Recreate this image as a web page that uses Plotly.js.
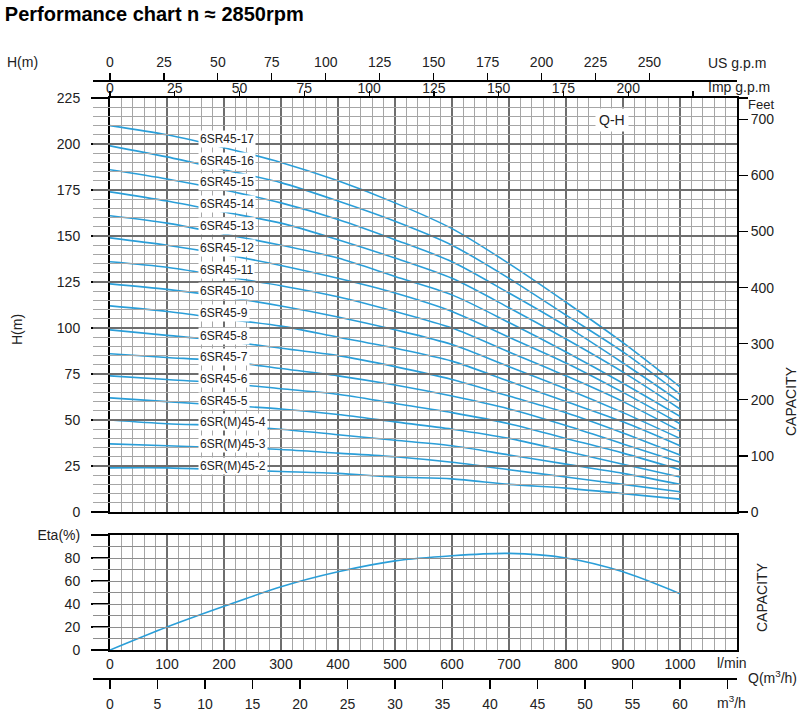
<!DOCTYPE html>
<html>
<head>
<meta charset="utf-8">
<script src="https://cdn.plot.ly/plotly-3.0.1.min.js"></script>
<style>
  html, body { margin: 0; padding: 0; background: #fff; }
  #chart { width: 800px; height: 725px; }
</style>
</head>
<body>
<div id="chart"></div>
<script>
// flow points, l/min
const flow = [0, 100, 200, 300, 400, 500, 600, 700, 800, 900, 1000];

// Q-H curves, head in m
const models = ['6SR45-17', '6SR45-16', '6SR45-15', '6SR45-14', '6SR45-13', '6SR45-12',
	'6SR45-11', '6SR45-10', '6SR45-9', '6SR45-8', '6SR45-7', '6SR45-6', '6SR45-5',
	'6SR(M)45-4', '6SR(M)45-3', '6SR(M)45-2'];
const head17 = [210, 205, 198, 190, 180, 168, 154, 135, 114, 92, 68];
const head16 = [199, 193, 186, 179, 169, 158, 145, 127, 107, 87, 64];
const head15 = [186, 181, 175, 168, 159, 148, 136, 119, 101, 81, 60];
const head14 = [174, 169, 163, 157, 148, 138, 127, 111, 94, 76, 56];
const head13 = [161, 157, 151, 145, 138, 128, 118, 103, 87, 70, 52];
const head12 = [149, 145, 140, 134, 127, 119, 109, 95, 81, 65, 48];
const head11 = [136, 133, 128, 123, 117, 109, 100, 87, 74, 60, 44];
const head10 = [124, 121, 117, 112, 106, 99, 91, 79, 67, 54, 40];
const head9 = [112, 109, 105, 101, 95, 89, 82, 71, 60, 49, 36];
const head8 = [99, 96, 93, 89, 85, 79, 72, 63, 54, 43, 31];
const head7 = [86, 84, 82, 78, 74, 69, 63, 56, 47, 37, 27];
const head6 = [74, 72, 70, 67, 64, 59, 54, 48, 40, 32, 23];
const head5 = [62, 60, 58, 56, 53, 49, 45, 40, 33, 26, 19];
const head4 = [50, 48, 47, 45, 42, 39, 36, 31, 26, 21, 15];
const head3 = [37, 36, 35, 34, 32, 30, 27, 23, 19, 15, 11];
const head2 = [24, 24, 23, 22, 21, 19, 18, 15, 13, 10, 7];
const heads = [head17, head16, head15, head14, head13, head12, head11, head10,
	head9, head8, head7, head6, head5, head4, head3, head2];

// efficiency curve
const eta = [0, 20, 38, 55, 68, 77.5, 82, 84, 80, 68, 49];

// tick labels
const lpmTicks = [0, 100, 200, 300, 400, 500, 600, 700, 800, 900, 1000];
const m3hTicks = [0, 5, 10, 15, 20, 25, 30, 35, 40, 45, 50, 55, 60, 65];
const usTicks = [0, 25, 50, 75, 100, 125, 150, 175, 200, 225, 250];
const impTicks = [0, 25, 50, 75, 100, 125, 150, 175, 200, 225];
const feetTicks = [0, 100, 200, 300, 400, 500, 600, 700];
const headTicks = [0, 25, 50, 75, 100, 125, 150, 175, 200, 225];
const etaTicks = [0, 20, 40, 60, 80, 100];

const blue = '#2a9ed8';
const font = 'Liberation Sans, Arial, sans-serif';
const qMax = 1100; // l/min at the right border

// plot area spans x 93..737, y 80..678 px; 1100 l/min over 627 px
const W = 644, H = 598, qPx = 627;
const xd = [17 / W, 1];
const px = (x) => (x - 93) / W;
const py = (y) => (678 - y) / H;

// minor grid positions that do not sit on a major line
function minorVals(step, every, max) {
	const out = [];
	for (let i = 1; i * step < max; i++) {
		if (i % every !== 0) out.push(i * step);
	}
	return out;
}

const traces = [];
heads.forEach((h) => {
	traces.push({
		x: flow, y: h, xaxis: 'x2', yaxis: 'y2',
		type: 'scatter', mode: 'lines',
		line: { color: blue, width: 1.6, shape: 'spline', smoothing: 0.8 },
		hoverinfo: 'skip',
	});
});
traces.push({
	x: flow, y: eta, xaxis: 'x', yaxis: 'y',
	type: 'scatter', mode: 'lines',
	line: { color: blue, width: 1.6, shape: 'spline', smoothing: 0.8 },
	hoverinfo: 'skip',
});
// empty traces so the extra scales get drawn
traces.push({ x: [], y: [], xaxis: 'x3', yaxis: 'y2' });
traces.push({ x: [], y: [], xaxis: 'x6', yaxis: 'y2' });
traces.push({ x: [], y: [], xaxis: 'x4', yaxis: 'y2' });
traces.push({ x: [], y: [], xaxis: 'x5', yaxis: 'y' });
traces.push({ x: [], y: [], xaxis: 'x2', yaxis: 'y3' });

function interp(xs, ys, x) {
	for (let i = 1; i < xs.length; i++) {
		if (x <= xs[i]) {
			const t = (x - xs[i - 1]) / (xs[i] - xs[i - 1]);
			return ys[i - 1] + t * (ys[i] - ys[i - 1]);
		}
	}
	return ys[ys.length - 1];
}

const tickFont = { family: font, size: 14, color: '#222' };
const majorGrid = '#6e6e6e';
const minorGrid = '#a6a6a6';

const annotations = [];
models.forEach((m, i) => {
	annotations.push({
		x: 155, y: interp(flow, heads[i], 155) + 1.5, xref: 'x2', yref: 'y2',
		text: m, showarrow: false, xanchor: 'left', yanchor: 'middle',
		bgcolor: '#fff', borderpad: 1,
		font: { family: font, size: 12, color: '#222' },
	});
});

const txt = (text, x, y, opts) => Object.assign({
	text: text, x: px(x), y: py(y), xref: 'paper', yref: 'paper',
	showarrow: false, xanchor: 'left', yanchor: 'middle', font: tickFont,
}, opts || {});

const capFont = { family: font, size: 14, color: '#222' };
annotations.push(
	{ x: 880, y: 213, xref: 'x2', yref: 'y2', text: 'Q-H', showarrow: false,
		bgcolor: '#fff', borderpad: 3, font: tickFont },
	txt('H(m)', 5, 62),
	txt('H(m)', 17, 330, { textangle: -90, xanchor: 'center' }),
	txt('US g.p.m', 706, 63),
	txt('Imp g.p.m', 706, 87),
	txt('Feet', 746, 104.5, { font: { family: font, size: 13, color: '#222' } }),
	txt('l/min', 715, 663),
	txt('Q(m<sup>3</sup>/h)', 746, 677),
	txt('m<sup>3</sup>/h', 715, 702),
	txt('CAPACITY', 791, 401, { textangle: -90, xanchor: 'center', font: capFont }),
	txt('CAPACITY', 762, 597, { textangle: -90, xanchor: 'center', font: capFont }),
);

const frame = { showline: true, linecolor: '#000', linewidth: 2, mirror: true, zeroline: false };
const xGrid = {
	showgrid: true, gridcolor: majorGrid, gridwidth: 2,
	minor: { tickmode: 'array', tickvals: minorVals(20, 5, qMax), ticks: '',
		showgrid: true, gridcolor: minorGrid, gridwidth: 1 },
};

const layout = {
	width: 800,
	height: 725,
	margin: { l: 93, r: 800 - 93 - W, t: 80, b: 725 - 80 - H },
	paper_bgcolor: '#fff',
	plot_bgcolor: 'rgba(0,0,0,0)',
	showlegend: false,
	title: {
		text: 'Performance chart n \u2248 2850rpm',
		x: 0.006, xanchor: 'left', xref: 'container',
		y: 1 - 14 / 725, yanchor: 'middle', yref: 'container',
		font: { family: font, size: 20, color: '#000', weight: 'bold' },
	},
	// bottom panel: efficiency
	xaxis: Object.assign({}, frame, xGrid, {
		domain: xd, range: [0, qMax], anchor: 'y',
		tickmode: 'array', tickvals: lpmTicks, ticks: '',
		tickfont: tickFont,
	}),
	yaxis: Object.assign({}, frame, {
		domain: [py(650), py(535)], range: [0, 100], anchor: 'x',
		tickmode: 'array', tickvals: etaTicks,
		ticktext: ['0', '20', '40', '60', '80', 'Eta(%)'],
		ticks: 'outside', ticklen: 17, tickwidth: 1.5, tickcolor: '#000',
		tickfont: tickFont, ticklabelstandoff: 8,
		showgrid: true, gridcolor: '#8e8e8e', gridwidth: 1,
		minor: { tickmode: 'array', tickvals: minorVals(10, 2, 100), ticks: '',
			showgrid: true, gridcolor: '#8e8e8e', gridwidth: 1 },
	}),
	// top panel: Q-H, 25 m per 46 px
	xaxis2: Object.assign({}, frame, xGrid, {
		domain: xd, range: [0, qMax], anchor: 'y2', matches: 'x',
		tickmode: 'array', tickvals: lpmTicks, ticks: '', showticklabels: false,
	}),
	yaxis2: Object.assign({}, frame, {
		domain: [py(512), py(98)], range: [0, 225], anchor: 'x2',
		tickmode: 'array', tickvals: headTicks,
		ticks: 'outside', ticklen: 17, tickwidth: 1.5, tickcolor: '#000',
		tickfont: tickFont, ticklabelstandoff: 8,
		showgrid: true, gridcolor: majorGrid, gridwidth: 2,
		minor: { tickmode: 'array', tickvals: minorVals(5, 5, 225), ticks: '',
			showgrid: true, gridcolor: minorGrid, gridwidth: 1 },
	}),
	// feet scale
	yaxis3: {
		overlaying: 'y2', side: 'right', anchor: 'x2',
		range: [0, 225 / 0.3048], zeroline: false, showgrid: false,
		tickmode: 'array', tickvals: feetTicks.concat([225 / 0.3048]),
		ticktext: feetTicks.map(String).concat([' ']),
		ticks: 'outside', ticklen: 10, tickwidth: 1.2, tickcolor: '#000',
		tickfont: tickFont,
	},
	// Imp g.p.m scale: labels
	xaxis3: {
		overlaying: 'x2', side: 'top', anchor: 'y2',
		range: [0, qMax / 4.54609], zeroline: false, showgrid: false,
		tickmode: 'array', tickvals: impTicks,
		ticktext: impTicks.map((v) => (v === 225 ? ' ' : String(v))),
		ticks: '', tickfont: tickFont, ticklabelstandoff: 1,
	},
	// Imp g.p.m scale: tick marks
	xaxis6: {
		overlaying: 'x2', side: 'top', anchor: 'y2',
		range: [0, qMax / 4.54609], zeroline: false, showgrid: false,
		tickmode: 'array', tickvals: impTicks, showticklabels: false,
		ticks: 'outside', ticklen: 6, tickwidth: 1.2, tickcolor: '#000',
	},
	// US g.p.m scale
	xaxis4: {
		domain: [0, 1], anchor: 'free', position: 1, side: 'top',
		range: [-17 * (qMax / 3.78541) / qPx, qMax / 3.78541],
		zeroline: false, showgrid: false,
		showline: true, linecolor: '#000', linewidth: 1.5,
		tickmode: 'array', tickvals: usTicks,
		ticks: 'outside', ticklen: 7, tickwidth: 1.2, tickcolor: '#000',
		tickfont: tickFont,
	},
	// m3/h scale
	xaxis5: {
		domain: [0, 1], anchor: 'free', position: 0, side: 'bottom',
		range: [-17 * (qMax * 0.06) / qPx, qMax * 0.06],
		zeroline: false, showgrid: false,
		showline: true, linecolor: '#000', linewidth: 1.5,
		tickmode: 'array', tickvals: m3hTicks,
		ticktext: m3hTicks.map((v) => (v === 65 ? ' ' : String(v))),
		ticks: 'outside', ticklen: 9, tickwidth: 1.2, tickcolor: '#000',
		tickfont: tickFont, ticklabelstandoff: 4,
	},
	annotations: annotations,
};

Plotly.newPlot('chart', traces, layout, { displayModeBar: false, staticPlot: true });
</script>
</body>
</html>
